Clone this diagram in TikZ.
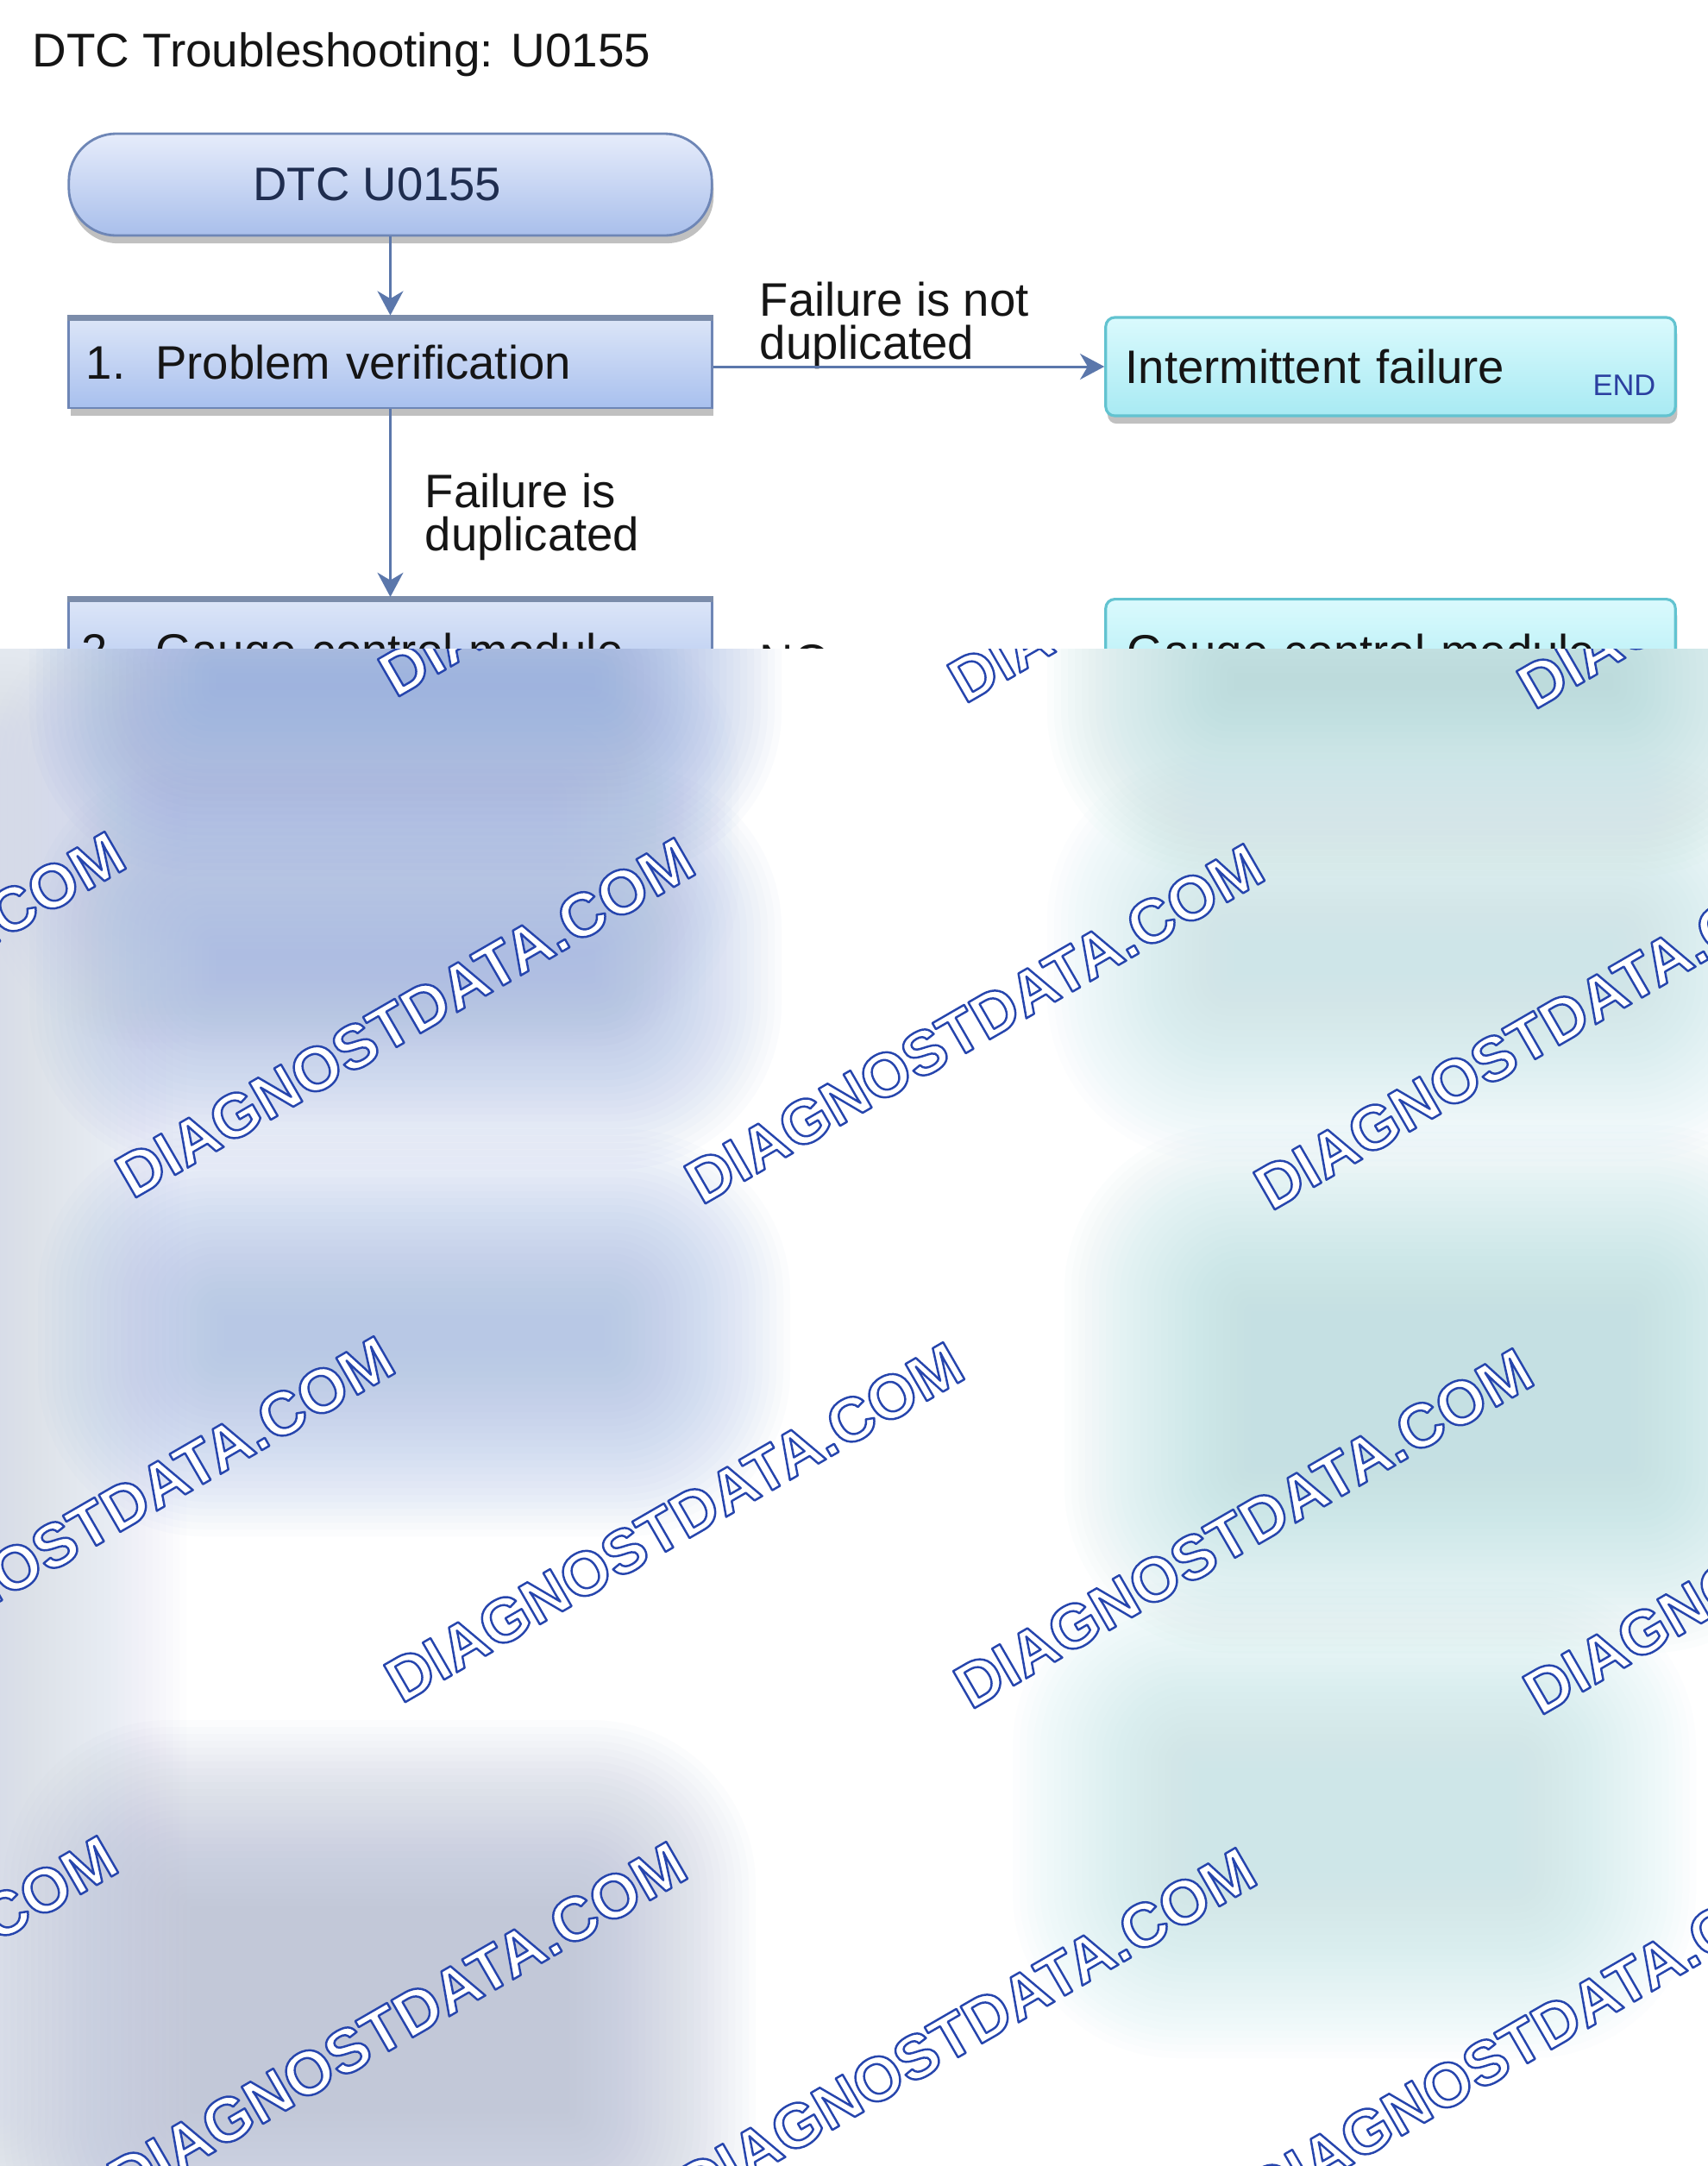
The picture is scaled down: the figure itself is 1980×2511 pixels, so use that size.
\documentclass[tikz,border=0pt]{standalone}
\usepackage{fontspec}
\setmainfont{Liberation Sans}
\usetikzlibrary{arrows.meta,shadows}
\definecolor{bluetop}{HTML}{DDE6F8}
\definecolor{bluebot}{HTML}{A8C0EE}
\definecolor{boxborder}{HTML}{6E86B6}
\definecolor{topband}{HTML}{7B8CAA}
\definecolor{pilltop}{HTML}{E6ECFB}
\definecolor{pillbot}{HTML}{A9BFEB}
\definecolor{pilltext}{HTML}{1F2D4F}
\definecolor{cyantop}{HTML}{DAFAFD}
\definecolor{cyanbot}{HTML}{A8EAF3}
\definecolor{cyanborder}{HTML}{62C3D0}
\definecolor{arrowc}{HTML}{5B77AB}
\definecolor{endc}{HTML}{2B3FA0}
\definecolor{txtc}{HTML}{151515}
% blur blob layer colours
\definecolor{Lone}{RGB}{140,166,222}
\definecolor{Ltwo}{RGB}{162,182,226}
\definecolor{Lthree}{RGB}{165,186,229}
\definecolor{Lfour}{RGB}{179,186,210}
\definecolor{Lmid}{RGB}{204,214,235}
\definecolor{Ledge}{RGB}{209,218,232}
\definecolor{Rone}{RGB}{172,216,219}
\definecolor{Rtwo}{RGB}{196,229,232}
\definecolor{Rthree}{RGB}{182,224,227}
\definecolor{Rfour}{RGB}{195,230,232}
\newcommand\blurblob[5]{%
  \foreach \k in {0,...,27}{%
    \fill[#5, fill opacity=0.045, rounded corners={0.5pt+2pt*\k}]
      ({#1-#3-8*\k},{#2-#4-8*\k}) rectangle ({#1+#3+8*\k},{#2+#4+8*\k});
  }}
\newcommand\wmark{\special{pdf:literal direct 1 j 0.7 w 0.15 0.27 0.68 RG 2 Tr}DIAGNOSTDATA.COM\special{pdf:literal direct 0 Tr}}
\tikzset{
  txt/.style={font=\fontsize{15.5}{14.2}\selectfont, text=txtc, inner sep=0pt},
  shadowed/.style={drop shadow={shadow xshift=0.6pt, shadow yshift=-2.6pt, opacity=0.35, fill=black!70}},
  pill/.style={rectangle, rounded corners=0.55cm, draw=boxborder, line width=0.8pt,
    top color=pilltop, bottom color=pillbot, shadowed, minimum width=7.45cm,
    minimum height=1.18cm, inner sep=0pt, text=pilltext, font=\fontsize{15.5}{15.5}\selectfont},
  bluebox/.style={rectangle, draw=boxborder, line width=0.8pt, top color=bluetop,
    bottom color=bluebot, shadowed, align=left, text=txtc, font=\fontsize{15.5}{14.2}\selectfont},
  cyanbox/.style={rectangle, rounded corners=3pt, draw=cyanborder, line width=0.9pt,
    top color=cyantop, bottom color=cyanbot, shadowed, align=left, text=txtc,
    font=\fontsize{15.5}{14.2}\selectfont},
  endtag/.style={inner sep=0pt, text=endc, font=\fontsize{9.8}{9.8}\selectfont},
  arr/.style={draw=arrowc, line width=0.85pt, -{Stealth[length=8pt,width=8.5pt,inset=2.5pt]}},
  wm/.style={inner sep=0pt, anchor=base west, rotate=30, text=white,
    font=\bfseries\fontsize{20.5}{20.5}\selectfont}
}
\begin{document}
\begin{tikzpicture}[x=0.01cm,y=-0.01cm]
\useasboundingbox (0,0) rectangle (1980,2511);
\fill[white] (0,0) rectangle (1980,2511);

% title
\node[txt, anchor=north west, font=\fontsize{15.6}{15.6}\selectfont] (title) at (37,37) {DTC Troubleshooting: U0155};

% boxes
\node[pill] (start) at (452.5,214) {DTC U0155\hspace{0.3cm}\null};
\node[bluebox, minimum height=1.06cm, text width=7.05cm, inner xsep=0.2cm, inner ysep=0pt] (pv) at (452.5,420) {1.\hspace{0.35cm}Problem verification};
\draw[topband, line width=2pt] ([yshift=-0.7pt]pv.north west) -- ([yshift=-0.7pt]pv.north east);
\node[cyanbox, minimum height=1.14cm, text width=6.14cm, inner xsep=0.23cm, inner ysep=0pt] (im) at (1612,425) {Intermittent failure};
\node[endtag, anchor=base east] (endlbl) at (1920,458) {END};

\node[bluebox, anchor=north, text width=7.15cm, inner xsep=0.15cm, inner ysep=0.41cm] (gcm) at (452.5,692) {2\hspace{0.55cm}Gauge control module};
\draw[topband, line width=2pt] ([yshift=-0.7pt]gcm.north west) -- ([yshift=-0.7pt]gcm.north east);
\node[cyanbox, anchor=north, text width=6.1cm, inner xsep=0.25cm, inner ysep=0.40cm] (gcmr) at (1612,693) {Gauge control module};

% labels
\node[txt, anchor=north west, align=left] (lblnot) at (880,326) {Failure is not\\duplicated};
\node[txt, anchor=north west, align=left] (lbldup) at (492,548) {Failure is\\duplicated};
\node[txt, anchor=north west] (lblno) at (880,747) {NO};

% connectors
\draw[arr] (start.south) -- (pv.north);
\draw[arr] (pv.east |- im.west) -- (im.west);
\draw[arr] (pv.south) -- (gcm.north);

% blurred lower part with watermark
\begin{scope}
\clip (0,752) rectangle (1980,2511);
\fill[white] (0,752) rectangle (1980,2511);
\blurblob{-100}{1650}{100}{800}{Ledge}
\blurblob{420}{960}{220}{40}{Lmid}
\blurblob{470}{790}{220}{10}{Lone}
\blurblob{470}{1120}{220}{20}{Ltwo}
\blurblob{480}{1545}{220}{20}{Lthree}
\blurblob{440}{2330}{220}{120}{Lfour}
\blurblob{1650}{790}{220}{10}{Rone}
\blurblob{1650}{1110}{220}{20}{Rtwo}
\blurblob{1670}{1610}{220}{90}{Rthree}
\blurblob{1570}{2110}{180}{60}{Rfour}
\foreach \wx/\wy in {-202/803, 458/810, 1118/817, 1778/824,
                     -507/1384, 153/1391, 813/1398, 1473/1405,
                     -195/1969, 465/1976, 1125/1983, 1785/1990,
                     -516/2548, 144/2555, 804/2562, 1464/2569}{
  \node[wm] at (\wx,\wy) {\wmark};
}
\end{scope}
\end{tikzpicture}
\end{document}
